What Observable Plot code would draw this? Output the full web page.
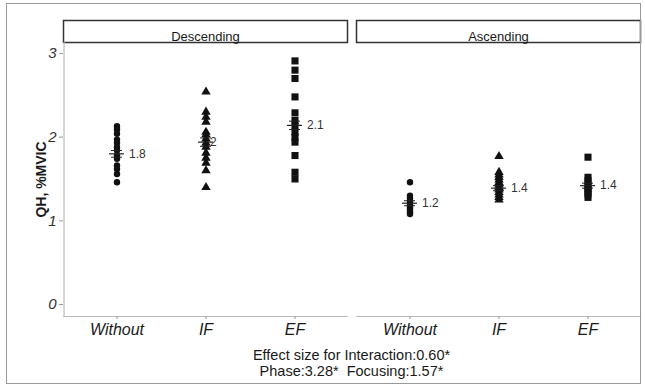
<!DOCTYPE html>
<html>
<head>
<meta charset="utf-8">
<script src="https://cdn.jsdelivr.net/npm/d3@7"></script>
<script src="https://cdn.jsdelivr.net/npm/@observablehq/plot@0.6"></script>
<style>
  body { margin: 0; background: #fff; font-family: "Liberation Sans", Arial, sans-serif; }
  #wrap { position: relative; width: 645px; height: 388px; }
  #caption { margin: 0 5px 0 63px; padding-top: 7px; text-align: center; font-size: 14.5px; line-height: 16px; color: #1a1a1a; }
  #border { position: absolute; left: 6px; top: 3px; width: 633px; height: 379px; border: 1.5px solid #999; pointer-events: none; }
</style>
</head>
<body>
<div id="wrap">
  <div id="chart"></div>
  <div id="caption">Effect size for Interaction:0.60*<br>Phase:3.28*&nbsp; Focusing:1.57*</div>
  <div id="border"></div>
</div>
<script>
const phases = ["Descending", "Ascending"];
const conditions = ["Without", "IF", "EF"];
const yTicks = [0, 1, 2, 3];
const yLabel = "QH, %MVIC";

// Individual values (QH, %MVIC)
const descWithout = [2.13, 2.09, 2.04, 1.97, 1.93, 1.88, 1.84, 1.78, 1.74, 1.66, 1.62, 1.56, 1.46];
const descIF = [2.54, 2.30, 2.24, 2.18, 2.06, 2.03, 1.98, 1.93, 1.88, 1.81, 1.75, 1.69, 1.60, 1.40];
const descEF = [2.91, 2.80, 2.70, 2.48, 2.29, 2.20, 2.13, 2.06, 2.00, 1.94, 1.78, 1.58, 1.50];
const ascWithout = [1.46, 1.30, 1.27, 1.24, 1.22, 1.20, 1.18, 1.16, 1.14, 1.12, 1.10, 1.08];
const ascIF = [1.77, 1.58, 1.55, 1.52, 1.49, 1.46, 1.43, 1.40, 1.37, 1.34, 1.31, 1.28, 1.25];
const ascEF = [1.76, 1.52, 1.48, 1.44, 1.41, 1.38, 1.35, 1.32, 1.28];

// Summary markers (order: Desc Without, IF, EF, Asc Without, IF, EF)
const meanValues = [1.80, 1.94, 2.14, 1.21, 1.39, 1.42];
const seValues = [0.04, 0.05, 0.05, 0.03, 0.03, 0.03];
const meanLabels = ["1.8", "2", "2.1", "1.2", "1.4", "1.4"];

const groups = [
  ["Descending", "Without", descWithout],
  ["Descending", "IF", descIF],
  ["Descending", "EF", descEF],
  ["Ascending", "Without", ascWithout],
  ["Ascending", "IF", ascIF],
  ["Ascending", "EF", ascEF]
];
const points = groups.flatMap(([phase, condition, vals]) => vals.map(value => ({phase, condition, value})));
const summary = groups.map(([phase, condition], i) => ({
  phase, condition, mean: meanValues[i], lo: meanValues[i] - seValues[i], hi: meanValues[i] + seValues[i], label: meanLabels[i]
}));

const W = 645, H = 340, mLeft = 63, mRight = 5, mTop = 42, mBottom = 24;
const yDomain = [-0.143, 3.13];
const fxPad = 0.031, xPadOuter = 0.095;
// offset (px) from a facet's left edge to the first band centre, used to place the y-axis line
const facetWidth = (W - mLeft - mRight) / (phases.length - fxPad) * (1 - fxPad);
const bandStep = facetWidth / (conditions.length + 2 * xPadOuter);
const firstCenter = bandStep * (xPadOuter + 0.5);

const chart = Plot.plot({
  width: W,
  height: H,
  marginLeft: mLeft,
  marginRight: mRight,
  marginTop: mTop,
  marginBottom: mBottom,
  style: { fontFamily: "Liberation Sans, Arial, sans-serif", background: "transparent" },
  fx: { domain: phases, paddingInner: fxPad, paddingOuter: 0, axis: null },
  x: { domain: conditions, type: "band", paddingInner: 0, paddingOuter: xPadOuter },
  y: { domain: yDomain },
  marks: [
    // facet strips
    Plot.frame({ insetTop: -22, insetBottom: H - mTop - mBottom, fill: "white", stroke: "#333", strokeWidth: 1.5 }),
    Plot.text(phases, { fx: d => d, text: d => d, frameAnchor: "top", dy: -11, fontSize: 13, fill: "#1a1a1a" }),
    // axis lines
    Plot.frame({ anchor: "bottom", stroke: "#bbb", strokeWidth: 1.2 }),
    Plot.ruleX([phases[0]], { fx: d => d, x: () => conditions[0], dx: -firstCenter, stroke: "#bbb", strokeWidth: 1.2 }),
    // axes
    Plot.axisY({ ticks: yTicks, tickFormat: d3.format("d"), tickSize: 4, tickPadding: 3, fontSize: 15, fontStyle: "italic", label: null, stroke: "#999", fill: "#333" }),
    Plot.axisX({ tickSize: 3, tickPadding: 4, fontSize: 16, fontStyle: "italic", label: null, stroke: "#999", fill: "#1a1a1a" }),
    Plot.text([yLabel], { fx: () => phases[0], x: () => conditions[0], y: () => (yDomain[0] + yDomain[1]) / 2, text: d => d, dx: -firstCenter - 23, rotate: -90, fontSize: 14, fontWeight: "bold", fill: "#1a1a1a" }),
    // points
    Plot.dot(points.filter(d => d.condition === "Without"), { fx: "phase", x: "condition", y: "value", r: 3.2, fill: "#111", symbol: "circle" }),
    Plot.dot(points.filter(d => d.condition === "IF"), { fx: "phase", x: "condition", y: "value", r: 3.5, fill: "#111", symbol: "triangle" }),
    Plot.dot(points.filter(d => d.condition === "EF"), { fx: "phase", x: "condition", y: "value", r: 4, fill: "#111", symbol: "square" }),
    // mean and error markers
    Plot.tickY(summary, { fx: "phase", x: "condition", y: "mean", insetLeft: 37, insetRight: 37, stroke: "#222", strokeWidth: 1.2 }),
    Plot.tickY(summary, { fx: "phase", x: "condition", y: "lo", insetLeft: 39, insetRight: 39, stroke: "#222", strokeWidth: 1 }),
    Plot.tickY(summary, { fx: "phase", x: "condition", y: "hi", insetLeft: 39, insetRight: 39, stroke: "#222", strokeWidth: 1 }),
    Plot.text(summary.filter(d => d.label.length > 1), { fx: "phase", x: "condition", y: "mean", text: "label", textAnchor: "start", dx: 12, fontSize: 12, fill: "#333" }),
    Plot.text(summary.filter(d => d.label.length === 1), { fx: "phase", x: "condition", y: "mean", text: "label", textAnchor: "start", dx: 4, fontSize: 12, fill: "#333" })
  ]
});
document.getElementById("chart").appendChild(chart);
</script>
</body>
</html>
